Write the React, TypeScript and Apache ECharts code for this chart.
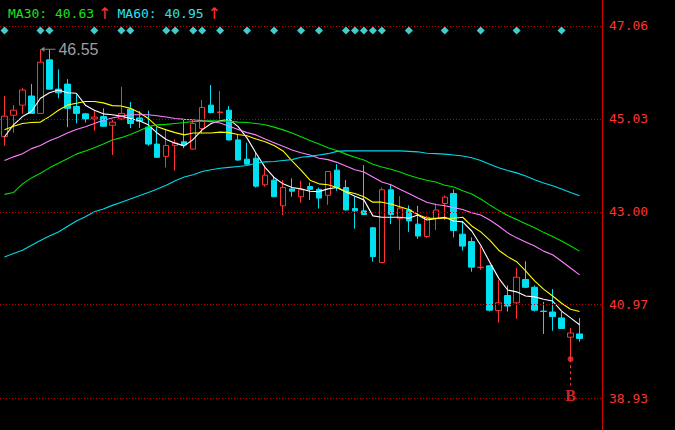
import React, { useEffect, useRef } from "react";
import * as echarts from "echarts";

// ---- data ----
const categories = Array.from({ length: 67 }, (_, i) => String(i + 1));

const opens = [44.64,45.11,45.33,45.53,45.15,46.32,45.68,45.79,45.30,45.14,
  45.03,45.08,44.89,45.03,45.24,45.05,44.85,44.48,44.21,44.45,
  44.53,44.37,44.82,45.33,45.17,45.22,44.57,44.15,44.17,43.59,
  43.69,43.13,43.50,43.33,43.55,43.49,43.36,43.91,43.53,43.07,
  43.02,42.65,41.89,43.48,42.85,43.04,42.73,42.46,42.85,43.18,
  43.40,42.51,42.35,41.78,41.82,40.84,41.17,41.01,41.52,41.35,
  40.83,40.81,40.68,40.26,40.33];
const closes = [45.09,45.22,45.66,45.15,46.27,45.68,45.60,45.26,45.15,45.03,
  45.07,44.87,44.96,45.15,44.93,44.98,44.48,44.19,44.45,44.50,
  44.46,44.93,45.28,45.17,45.18,44.57,44.13,44.04,43.56,43.80,
  43.33,43.53,43.45,43.48,43.49,43.30,43.88,43.53,43.04,43.02,
  42.94,42.02,43.48,42.94,43.08,42.80,42.47,42.88,43.04,43.32,
  42.59,42.25,41.79,41.79,40.85,41.01,40.94,41.57,41.35,40.85,
  40.82,40.71,40.45,40.35,40.23];
const lows = [44.44,44.73,45.14,45.15,45.15,45.68,45.48,44.85,44.93,44.95,
  44.77,44.86,44.24,45.01,44.83,44.83,44.44,44.18,43.97,43.90,
  44.39,44.36,44.71,45.15,45.01,44.56,44.12,44.03,43.53,43.55,
  43.32,42.93,43.33,43.20,43.26,43.07,43.15,43.46,43.03,42.63,
  42.93,41.91,41.88,42.73,42.16,42.56,42.41,42.43,42.60,42.82,
  42.44,42.15,41.69,41.73,40.82,40.58,40.82,40.66,41.33,40.82,
  40.33,40.40,40.44,39.78,40.16];
const highs = [45.53,45.33,45.71,45.79,46.55,46.54,46.11,45.90,45.57,45.16,
  45.21,45.26,45.01,45.73,45.40,45.20,45.21,44.86,44.79,44.58,
  45.01,45.01,45.44,45.77,45.64,45.31,44.68,44.51,44.29,43.97,
  43.77,43.69,43.73,43.68,43.64,43.53,43.89,44.04,43.69,43.33,
  44.02,42.67,43.53,43.61,43.34,43.14,43.13,42.91,43.18,43.36,
  43.49,42.80,42.44,42.24,41.83,41.51,41.39,41.77,41.92,41.39,
  41.03,41.31,40.81,40.46,40.68];

const ma5 = [44.64,44.90,45.08,45.19,45.48,45.60,45.66,45.60,45.59,45.33,45.22,45.14,45.12,45.09,45.04,44.99,44.90,
  44.72,44.58,44.50,44.44,44.58,44.79,44.93,44.99,45.02,44.86,44.61,44.28,43.97,43.75,43.61,43.53,43.50,
  43.45,43.44,43.50,43.53,43.43,43.34,43.26,42.91,42.88,42.88,42.88,42.86,42.93,42.82,42.85,42.88,
  42.80,42.78,42.58,42.27,41.90,41.55,41.29,41.25,41.16,41.14,41.09,41.05,40.83,40.68,40.53];
const ma10 = [44.79,44.87,44.93,44.95,44.96,45.08,45.22,45.33,45.37,45.41,45.41,45.38,45.32,45.31,45.26,45.17,45.04,
  44.86,44.79,44.73,44.68,44.72,44.72,44.72,44.74,44.73,44.69,44.66,44.59,44.53,44.45,44.33,44.11,43.91,
  43.69,43.61,43.59,43.53,43.44,43.40,43.33,43.21,43.21,43.17,43.11,43.05,42.94,42.86,42.86,42.86,
  42.86,42.88,42.69,42.56,42.38,42.16,42.02,41.91,41.71,41.49,41.31,41.16,41.00,40.87,40.82];
const ma20 = [44.12,44.20,44.27,44.38,44.45,44.55,44.63,44.72,44.80,44.86,44.93,45.00,45.05,45.09,45.12,45.12,45.12,
  45.10,45.07,45.04,45.02,45.01,44.99,44.97,44.94,44.87,44.80,44.73,44.68,44.59,44.51,44.43,44.35,44.29,
  44.24,44.17,44.14,44.08,44.00,43.92,43.87,43.76,43.65,43.59,43.49,43.40,43.30,43.21,43.16,43.13,
  43.09,43.05,42.98,42.93,42.82,42.69,42.54,42.43,42.34,42.25,42.14,42.06,41.92,41.77,41.62];
const ma30 = [43.38,43.42,43.61,43.74,43.84,43.96,44.06,44.16,44.26,44.33,44.40,44.48,44.57,44.62,44.69,44.77,44.86,
  44.90,44.91,44.93,44.95,44.97,44.98,44.99,44.98,44.98,44.96,44.95,44.93,44.90,44.85,44.79,44.72,44.64,
  44.56,44.48,44.40,44.34,44.26,44.19,44.13,44.04,43.98,43.93,43.87,43.80,43.74,43.69,43.65,43.58,
  43.54,43.46,43.39,43.28,43.15,43.03,42.92,42.83,42.74,42.65,42.55,42.46,42.36,42.25,42.14];
const ma60 = [42.01,42.09,42.16,42.27,42.37,42.47,42.56,42.68,42.80,42.89,43.00,43.06,43.14,43.21,43.28,43.35,43.42,
  43.50,43.58,43.68,43.76,43.81,43.88,43.92,43.95,43.97,43.99,44.01,44.06,44.09,44.10,44.12,44.14,44.19,
  44.21,44.24,44.27,44.32,44.33,44.33,44.33,44.33,44.33,44.33,44.33,44.32,44.31,44.28,44.27,44.26,
  44.24,44.22,44.18,44.12,44.04,43.96,43.90,43.85,43.78,43.70,43.63,43.57,43.50,43.42,43.35];

const tickValues = [47.06, 45.03, 43.0, 40.97, 38.93];
const diamondIdx = [0,4,5,10,13,14,18,19,21,22,24,27,30,33,35,38,39,40,41,42,45,49,53,57,62];
const diamondLevel = 46.96;
const peakIdx = 4;
const peakValue = 46.55;
const signalIdx = 63;
const signalLow = 39.78;
const signalLineEnd = 39.2;
const signalLabelLevel = 38.99;
const legendMA30 = "40.63";
const legendMA60 = "40.95";

const RED = "#ff3232";
const CYAN = "#00e0f0";

export default function App() {
  const ref = useRef<HTMLDivElement>(null);
  useEffect(() => {
    document.body.style.margin = "0";
    document.body.style.background = "#000";
    const chart = echarts.init(ref.current!, null, { renderer: "svg" });
    const candles = opens.map((o, i) => [o, closes[i], lows[i], highs[i]]);
    const maLine = (name: string, data: number[], color: string) => ({
      name,
      type: "line",
      data,
      symbol: "none",
      showSymbol: false,
      lineStyle: { color, width: 1.1 },
      z: 3,
      silent: true,
    });
    chart.setOption({
      animation: false,
      backgroundColor: "#000000",
      grid: { left: -2, right: 73, top: 0, bottom: 0 },
      xAxis: {
        type: "category",
        data: categories,
        boundaryGap: true,
        show: false,
      },
      yAxis: {
        type: "value",
        position: "right",
        min: 38.231,
        max: 47.628,
        axisLine: { show: true, lineStyle: { color: "#d00000", width: 1 } },
        axisTick: { show: false },
        axisLabel: { show: false },
        splitLine: { show: false },
      },
      graphic: [
        {
          type: "text",
          left: 8,
          top: 5,
          style: {
            text: `{g|MA30: ${legendMA30}}{r|↑}{s| }{c|MA60: ${legendMA60}}{r|↑}`,
            rich: {
              g: { fill: "#1ee01e", fontFamily: "DejaVu Sans Mono", fontSize: 13, padding: [0, 4, 0, 0] },
              c: { fill: "#2ee0f0", fontFamily: "DejaVu Sans Mono", fontSize: 13, padding: [0, 4, 0, 0] },
              r: { fill: RED, fontFamily: "DejaVu Sans", fontSize: 16 },
              s: { fontSize: 13, fontFamily: "DejaVu Sans Mono", width: 6 },
            },
          },
        },
      ],
      series: [
        {
          name: "grid",
          type: "line",
          data: categories.map(() => "-"),
          symbol: "none",
          z: 1,
          silent: true,
          markLine: {
            silent: true,
            symbol: ["none", "none"],
            lineStyle: { color: "#c00000", type: [1, 2], width: 1 },
            label: {
              position: "end",
              distance: 7,
              color: RED,
              fontFamily: "DejaVu Sans Mono",
              fontSize: 13,
              formatter: (p: any) => Number(p.value).toFixed(2),
            },
            data: tickValues.map((v) => ({ yAxis: v })),
          },
        },
        {
          name: "K",
          type: "candlestick",
          data: candles,
          barWidth: 6,
          z: 2,
          itemStyle: {
            color: "#000000",
            color0: CYAN,
            borderColor: RED,
            borderColor0: CYAN,
            borderWidth: 1,
          },
        },
        maLine("MA5", ma5, "#ffffff"),
        maLine("MA10", ma10, "#ffff00"),
        maLine("MA20", ma20, "#ff80ff"),
        maLine("MA30", ma30, "#00e000"),
        maLine("MA60", ma60, "#00d8ec"),
        {
          name: "signals",
          type: "scatter",
          data: diamondIdx.map((i) => [i, diamondLevel]),
          symbol: "diamond",
          symbolSize: 8,
          itemStyle: { color: "#55ffff" },
          silent: true,
          z: 4,
        },
        {
          name: "peak",
          type: "scatter",
          data: [[peakIdx, peakValue]],
          symbol: "path://M0,2.5 L4,0 L4,2 L15,2 L15,3 L4,3 L4,5 Z",
          symbolSize: [15, 5],
          symbolOffset: [7.5, 0],
          itemStyle: { color: "#a8a8a8" },
          label: {
            show: true,
            position: "right",
            distance: 3,
            formatter: String(peakValue.toFixed(2)),
            color: "#c8c8c8",
            fontFamily: "Liberation Sans",
            fontSize: 16,
          },
          silent: true,
          z: 5,
        },
        {
          name: "bLine",
          type: "line",
          data: [[signalIdx, signalLow], [signalIdx, signalLineEnd]],
          symbol: "none",
          lineStyle: { color: RED, width: 1, type: [3, 3] },
          silent: true,
          z: 4,
        },
        {
          name: "bDot",
          type: "scatter",
          data: [[signalIdx, signalLow]],
          symbol: "circle",
          symbolSize: 6,
          itemStyle: { color: RED },
          silent: true,
          z: 5,
        },
        {
          name: "bLabel",
          type: "scatter",
          data: [[signalIdx, signalLabelLevel]],
          symbol: "circle",
          symbolSize: 0,
          label: {
            show: true,
            position: "inside",
            formatter: "B",
            color: RED,
            fontFamily: "Liberation Serif",
            fontWeight: "bold",
            fontSize: 16,
          },
          silent: true,
          z: 5,
        },
      ],
    });
    return () => chart.dispose();
  }, []);
  return (
    <div
      ref={ref}
      style={{ position: "absolute", left: 0, top: 0, width: 675, height: 430 }}
    />
  );
}
